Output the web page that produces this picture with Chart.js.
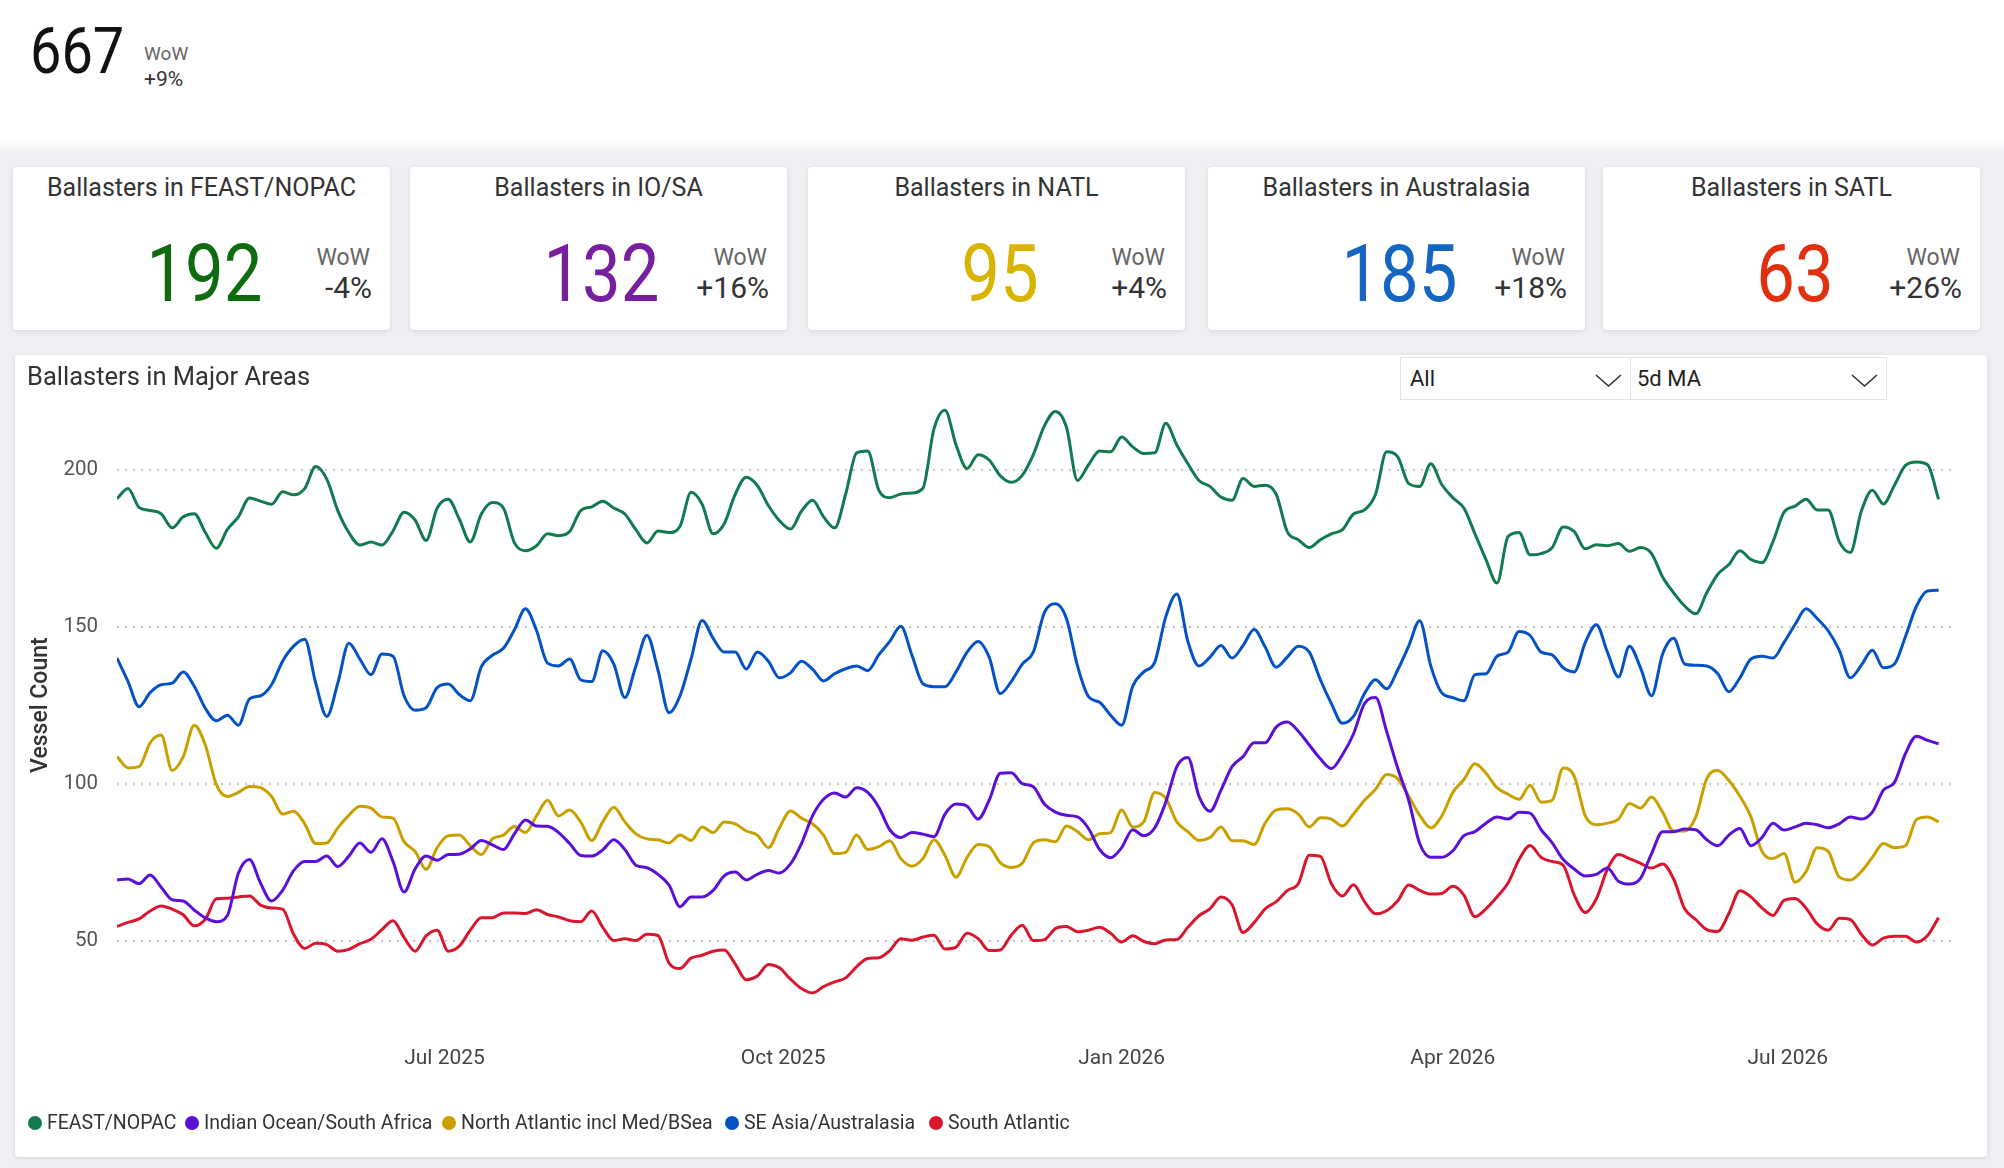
<!DOCTYPE html>
<html>
<head>
<meta charset="utf-8">
<title>Ballasters in Major Areas</title>
<script src="https://cdn.jsdelivr.net/npm/chart.js@4.4.1/dist/chart.umd.min.js"></script>
<style>
  html, body { margin: 0; padding: 0; }
  body {
    width: 2004px; height: 1168px; position: relative; overflow: hidden;
    font-family: Roboto, "Noto Sans", sans-serif; color: #333;
    background: linear-gradient(#fff 0, #fff 140px, #edeff2 154px, #edeff2 100%);
  }
  .abs { position: absolute; }
  .din { display: inline-block; transform-origin: center; transform: scaleX(0.86); }
  .total { left: 30px; top: 19px; font-size: 65px; line-height: 1; color: #111; }
  .total .din { transform-origin: left center; }
  .total-wow { left: 144px; top: 44px; font-size: 19px; line-height: 1; color: #666; }
  .total-pct { left: 144px; top: 69px; font-size: 21px; line-height: 1; color: #333; }
  .card {
    position: absolute; top: 167px; width: 377px; height: 163px; background: #fff;
    border-radius: 4px; box-shadow: 0 1px 4px rgba(0,0,0,0.10);
  }
  .card .title { position: absolute; left: 0; right: 0; top: 6px; height: 30px; line-height: 30px;
    text-align: center; font-size: 25px; color: #333; }
  .card .value { position: absolute; left: 6px; right: 0; top: 67px; text-align: center;
    font-size: 80px; line-height: 1; }
  .card .wow { position: absolute; right: 20px; top: 79px; font-size: 23px; line-height: 1; color: #666; }
  .card .pct { position: absolute; right: 18px; top: 106px; font-size: 30px; line-height: 1; color: #333; }
  .panel { left: 15px; top: 355px; width: 1972px; height: 802px; background: #fff;
    border-radius: 4px; box-shadow: 0 1px 4px rgba(0,0,0,0.10); }
  .chart-box { left: 15px; top: 360px; width: 1972px; height: 797px; }
  .panel-title { left: 27px; top: 362px; font-size: 25.5px; line-height: 1.1; color: #333; }
  .dd { top: 357px; height: 43px; background: #fff; border: 1px solid #e4e4e4; box-sizing: border-box;
    font-size: 22px; line-height: 41px; color: #222; }
  .dd svg { position: absolute; right: 8px; top: 16px; }
  .legend .item { position: absolute; top: 1111px; display: flex; align-items: center;
    font-size: 19.5px; line-height: 24px; color: #333; white-space: nowrap; }
  .legend .dot { width: 14px; height: 14px; border-radius: 50%; margin-right: 5px; }
</style>
</head>
<body>
<div class="abs total"><span class="din">667</span></div>
<div class="abs total-wow">WoW</div>
<div class="abs total-pct">+9%</div>

<div id="cards"></div>

<div class="abs panel"></div>
<div class="abs chart-box"><canvas id="areas"></canvas></div>
<div class="abs panel-title">Ballasters in Major Areas</div>
<div class="abs dd" style="left:1400px;width:231px;padding-left:9px">All
  <svg width="27" height="13"><polyline points="1,1 13.5,12 26,1" fill="none" stroke="#333" stroke-width="1.6"/></svg></div>
<div class="abs dd" style="left:1630px;width:257px;padding-left:6px">5d MA
  <svg width="27" height="13"><polyline points="1,1 13.5,12 26,1" fill="none" stroke="#333" stroke-width="1.6"/></svg></div>
<div class="legend" id="legend"></div>

<script>
// sample dates: one point every 3 days from startDate
const startDate = '2025-04-03'
const stepDays = 3

const seriesNames = [
  'FEAST/NOPAC',
  'Indian Ocean/South Africa',
  'North Atlantic incl Med/BSea',
  'SE Asia/Australasia',
  'South Atlantic'
]
const seriesColors = ['#117a4f', '#5a10d6', '#c9a000', '#0452c6', '#d8162e']

const feastNopac = [
  190.8, 194, 188, 187, 186, 181.5, 185, 186, 180, 175, 181, 185, 191, 190, 189, 193, 192, 194, 201, 197, 187, 180, 176, 177, 176, 180.5, 186.5, 184,
  177.5, 187.8, 190.6, 184.3, 177, 185.9, 189.6, 187.8, 176.7, 174.2, 175.8, 179.6, 179, 180.3, 187, 188.2, 190, 187.8, 185.9, 180.9, 176.7, 180.5, 180, 182, 192.8, 189, 179.6, 182.8,
  192.2, 197.6, 195, 188.6, 183.8, 181.1, 186.8, 190.3, 185, 181.5, 192.2, 205.4, 206, 193.5, 191.1, 192.3, 192.6, 194.1, 213, 219, 207.9, 200.4, 204.8, 203.1, 198.1, 196, 198.2, 204.8, 214,
  218.6, 213.6, 196.6, 201.6, 206, 205.7, 210.4, 207.3, 205.2, 205.4, 214.8, 207.9, 201.9, 196.6, 194.7, 191.3, 190.3, 197.2, 194.7, 195.1, 192.2, 180.3, 177.7, 175.2, 177.7, 179.6, 180.9, 185.9, 187.2,
  192.2, 205.7, 204.2, 195.6, 194.7, 201.9, 195.3, 191.1, 187.8, 179.6, 171.4, 163.9, 178.7, 180, 172.9, 173.3, 175.2, 181.8, 180.3, 174.8, 176.1, 175.8, 176.5, 174, 175.2, 173.3, 165.8, 160.8, 156.6,
  154.1, 160.8, 166.7, 169.8, 174.2, 171.4, 170.4, 177.1, 186.5, 188.4, 190.6, 187.2, 187.2, 177.1, 173.6, 186.8, 193.5, 189.1, 195.1, 201.4, 202.5, 201.6, 190.6
]
const indianOcean = [
  69.3, 69.6, 68.1, 70.9, 67, 63, 62.6, 59.7, 57.2, 56, 58, 71.5, 75.8, 68.3, 62.6, 66, 72.3, 75.2, 75.2, 76.9, 73.6, 76.9, 81.1, 78.1, 82.4, 75.2, 65.5, 72.8,
  76.9, 75.6, 77.4, 77.5, 79.2, 81.9, 80.5, 79, 84, 88.4, 86.5, 86.4, 84.4, 80.9, 77.1, 76.9, 78.9, 82.1, 79, 74, 73.2, 71.1, 67.7, 60.8, 63.9, 63.9, 66, 70.6,
  71.8, 69.3, 71.1, 72.3, 71.5, 74.4, 80.9, 89.7, 95, 97, 95.7, 98.7, 97.2, 92.5, 85.3, 82.8, 84.4, 83.9, 83.1, 90.3, 93.5, 92.8, 88.7, 94.7, 103.3, 103.5, 100, 99, 93.5,
  90.9, 89.9, 89.4, 85.7, 79, 76.4, 79.6, 85.3, 83.4, 85.9, 94.1, 105.4, 108.3, 96, 91.2, 97.9, 105.4, 108.6, 113, 113, 118, 119.6, 116.7, 112.3, 107.9, 104.8, 109.2, 115.8, 125.5,
  127.4, 116.7, 105, 94.7, 80.9, 76.5, 76.5, 78.6, 83.4, 84.7, 87.4, 89.4, 88.7, 90.9, 90.6, 85.3, 81.1, 75.8, 72.8, 70.6, 71.1, 73.1, 68.9, 68, 69.8, 77.7, 84.7, 84.7, 85.5,
  85.3, 82.1, 80.2, 83.6, 85.7, 80.2, 82.8, 87.4, 85.2, 86.2, 87.4, 86.9, 85.9, 87.2, 89.4, 88.7, 90.9, 97.9, 100.4, 109.6, 115.1, 113.8, 112.7
]
const northAtlantic = [
  108.6, 105, 105.4, 113, 115.5, 104.2, 108.6, 118.6, 112.3, 99.7, 95.9, 97.2, 99.1, 98.7, 95.9, 90.3, 91.2, 87.2, 80.9, 81.1, 85.9, 89.9, 92.8, 92.2, 89.4, 89, 81.5, 78.4,
  72.7, 79.6, 83.4, 83.6, 80.2, 77.4, 82.4, 83.6, 86.3, 84.4, 89.7, 94.7, 89.7, 91.6, 87.8, 81.9, 87.8, 92.5, 87.8, 84, 82.4, 82.1, 81.1, 83.6, 81.9, 86.2, 84.4, 87.8,
  87.2, 84.9, 83.6, 79.6, 85.9, 91.3, 89, 87.2, 83.6, 77.7, 78.1, 83.6, 79, 79.9, 81.8, 76.1, 73.7, 76.1, 82.1, 77.1, 70.2, 76.5, 80.6, 79.9, 74.8, 73.3, 74.6, 81.1, 82.1,
  81.5, 86.5, 84.7, 82.1, 84, 84.4, 91.6, 86.2, 87.8, 97.2, 95.3, 87.8, 84.7, 81.9, 82.8, 86.2, 81.8, 81.8, 80.6, 87.4, 91.6, 92, 90.3, 86.2, 89.1, 88.7, 86.5, 90.3, 94.7,
  98.2, 102.9, 101.6, 96, 89.9, 85.9, 89.7, 97.2, 101.3, 106.3, 103.3, 98.7, 96.6, 95, 99.5, 94.1, 94.7, 105, 102.3, 89.7, 86.9, 87.4, 88.7, 93.7, 92.2, 95.7, 90.9, 84.9, 84.9,
  89.3, 101.6, 104.2, 101, 96, 89.4, 78.4, 76.1, 77.7, 68.6, 72, 79.6, 78.4, 70.2, 69.3, 72, 76.5, 80.9, 79.6, 80.2, 88.6, 89.4, 87.8
]
const seAsia = [
  140, 132.5, 124.5, 129, 131.5, 132, 135.6, 131, 124, 120, 121.8, 118.6, 127, 128, 131.5, 139, 143.8, 146, 132, 121.4, 132, 144.7, 139.7, 134.7, 141.3, 140.6, 128, 123.4,
  124.2, 130.6, 131.7, 128.4, 126.4, 137.2, 140.9, 143.1, 149, 155.7, 148.8, 138.4, 137.5, 139.7, 133.1, 132.5, 142.3, 138.1, 127.4, 137.5, 147.3, 136.2, 122.6, 128, 139.7, 152, 146.3, 141.9,
  141.9, 136.5, 141.9, 139, 133.7, 135.3, 139, 136.5, 132.7, 135, 136.6, 137.5, 136, 141, 145.3, 150.1, 141, 131.8, 130.9, 130.9, 135.6, 141.9, 145.3, 140.3, 128.7, 132.5, 138.1, 141.9, 154.5,
  157.3, 152.6, 137.5, 127.7, 125.9, 121.8, 118.6, 131, 135.6, 138.7, 153.2, 160.4, 145.3, 137.5, 140.3, 144, 140, 144, 149.1, 143.5, 137.1, 140.3, 143.8, 141.9, 133.1, 125.5, 119.2, 121.4, 128.7,
  133.1, 130.2, 136.2, 143.8, 151.9, 137.5, 128.9, 127.4, 126.4, 134.7, 135, 140.6, 141.9, 148.5, 147.2, 141.9, 141, 136.9, 135.6, 145, 150.6, 141.9, 134, 143.8, 136.9, 128, 141.3, 146.3, 138.1,
  137.7, 137.5, 135, 129.3, 133.7, 139.7, 140.6, 140, 145, 150.7, 155.7, 152.6, 148.7, 142.5, 133.7, 137.7, 142.5, 136.9, 138.1, 146.9, 156.6, 161.4, 161.6
]
const southAtlantic = [
  54.5, 55.8, 56.9, 59.4, 61, 60, 58.2, 54.7, 56.8, 63.3, 63.5, 63.9, 64.2, 61.3, 60.4, 60, 52, 47.5, 49.1, 48.7, 46.6, 47.2, 49, 50.4, 53.5, 56.3, 51, 46.6,
  51.5, 53.3, 46.6, 48.2, 53.3, 57.3, 57.3, 58.8, 58.8, 58.6, 59.8, 58.3, 57.5, 56.3, 56, 59.4, 54.2, 50, 50.6, 50, 52, 51.6, 42.8, 41.1, 44.4, 45.3, 46.6, 47,
  42.5, 37.5, 38.7, 42.4, 41.3, 37.7, 34.7, 33.3, 35.3, 36.8, 38.1, 41.7, 44.3, 44.5, 46.8, 50.6, 50.1, 51.1, 51.7, 47.3, 47.9, 52.3, 50.6, 46.8, 47, 51.7, 54.9, 50, 50.3,
  53.8, 54.5, 52.8, 53.3, 54.2, 52.3, 49.5, 51.5, 49.7, 49, 50.2, 50.3, 54.2, 57.9, 60.1, 63.9, 61.4, 52.6, 55.7, 60.1, 62.4, 65.9, 68.1, 77.2, 76.8, 68.1, 64.2, 67.8, 62.4,
  58.5, 59.5, 62.6, 67.7, 66, 64.8, 65, 67.3, 64.5, 57.6, 60.1, 63.9, 68.3, 75.8, 80.3, 76.5, 75.2, 74, 64.5, 58.9, 63.3, 72.7, 77.4, 76.1, 74.6, 73.1, 74.4, 69.6, 60.1,
  56.7, 53.5, 52.9, 58.6, 65.9, 63.9, 60.4, 58, 62.8, 63.4, 60.3, 55.3, 53.3, 57.1, 56.7, 52, 48.6, 50.8, 51.4, 51.4, 49.5, 51.6, 57.3
]

const tickDates = ['2025-07-01', '2025-10-01', '2026-01-01', '2026-04-01', '2026-07-01']
const tickLabels = ['Jul 2025', 'Oct 2025', 'Jan 2026', 'Apr 2026', 'Jul 2026']
const yTicks = [50, 100, 150, 200]

// KPI cards
const cardTitles = ['Ballasters in FEAST/NOPAC', 'Ballasters in IO/SA', 'Ballasters in NATL', 'Ballasters in Australasia', 'Ballasters in SATL']
const cardValues = ['192', '132', '95', '185', '63']
const cardWow = ['-4%', '+16%', '+4%', '+18%', '+26%']
const cardColors = ['#0e6b10', '#76209f', '#d8b400', '#1466c2', '#e1300f']
const cardLefts = [13, 410, 808, 1208, 1603]
const legendLefts = [28, 185, 442, 725, 929]

const cards = document.getElementById('cards')
cardTitles.forEach((t, i) => {
  const c = document.createElement('div')
  c.className = 'card'
  c.style.left = cardLefts[i] + 'px'
  c.innerHTML = '<div class="title">' + t + '</div>' +
    '<div class="value" style="color:' + cardColors[i] + '"><span class="din">' + cardValues[i] + '</span></div>' +
    '<div class="wow">WoW</div><div class="pct">' + cardWow[i] + '</div>'
  cards.appendChild(c)
})

// legend
const legend = document.getElementById('legend')
seriesNames.forEach((n, i) => {
  const it = document.createElement('div')
  it.className = 'item'
  it.style.left = legendLefts[i] + 'px'
  it.innerHTML = '<span class="dot" style="background:' + seriesColors[i] + '"></span>' + n
  legend.appendChild(it)
})

const dayOf = (s) => (Date.parse(s) - Date.parse(startDate)) / 86400000
const tickDays = tickDates.map(dayOf)
const toPoints = (values) => values.map((v, i) => ({ x: i * stepDays, y: v }))
const seriesValues = [feastNopac, indianOcean, northAtlantic, seAsia, southAtlantic]

Chart.defaults.font.family = 'Roboto, "Noto Sans", sans-serif'

const ctx = document.getElementById('areas').getContext('2d')

const chart = new Chart(ctx, {
  type: 'line',
  data: {
    datasets: seriesValues.map((vals, i) => ({
      label: seriesNames[i],
      data: toPoints(vals),
      borderColor: seriesColors[i],
      backgroundColor: seriesColors[i],
      borderWidth: 3,
      pointRadius: 0,
      cubicInterpolationMode: 'monotone',
      fill: false
    }))
  },
  options: {
    responsive: true,
    maintainAspectRatio: false,
    animation: false,
    layout: { padding: { top: 7, right: 30, bottom: 0, left: 0 } },
    plugins: {
      legend: { display: false },
      tooltip: { enabled: false }
    },
    scales: {
      x: {
        type: 'linear',
        min: 0,
        max: 500,
        grid: { display: false, drawTicks: false },
        border: { display: false },
        afterBuildTicks: (s) => { s.ticks = tickDays.map((v) => ({ value: v })) },
        afterFit: (s) => { s.height = 138 },
        ticks: {
          padding: 27,
          autoSkip: false,
          maxRotation: 0,
          color: '#444',
          font: { size: 21 },
          callback: (v) => tickLabels[tickDays.indexOf(v)]
        }
      },
      y: {
        min: 25,
        max: 225,
        afterBuildTicks: (s) => { s.ticks = yTicks.map((v) => ({ value: v })) },
        afterFit: (s) => { s.width = 102 },
        grid: { color: '#c4c4c4', lineWidth: 2, drawTicks: false },
        border: { display: false, dash: [2, 6] },
        ticks: { padding: 19, color: '#555', font: { size: 20.5 } },
        title: {
          display: true,
          text: 'Vessel Count',
          color: '#333',
          font: { size: 23, weight: '500' },
          padding: { top: 12, bottom: 0 }
        }
      }
    }
  }
})
</script>
</body>
</html>
